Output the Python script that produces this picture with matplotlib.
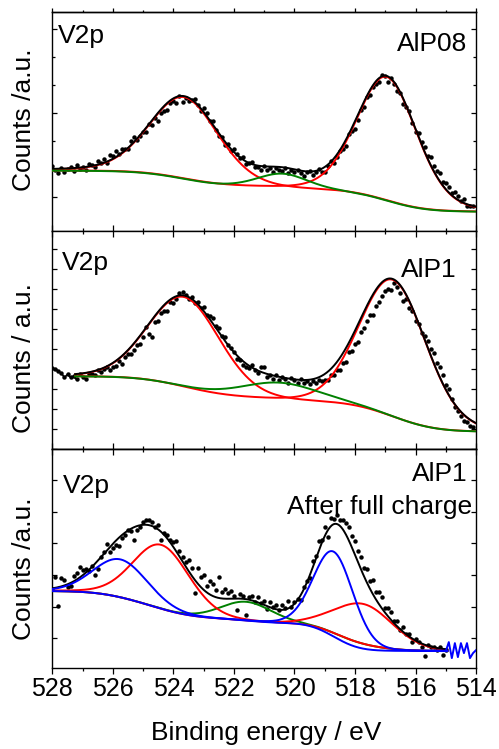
import matplotlib.pyplot as plt
import numpy as np
from matplotlib.ticker import MultipleLocator, FixedLocator

plt.rcParams['font.family'] = ['Liberation Sans', 'DejaVu Sans']

# energy grid of the measured points (eV, 0.1 eV steps from 528 down)
be_start = 528.0
be_step = 0.1

# --- AlP08 ---
alp08_counts = [65, 61, 58, 63, 59, 62, 64, 60, 66, 62,
                64, 61, 67, 66, 64, 70, 68, 72, 68, 76,
                75, 80, 77, 82, 82, 82, 90, 94, 91, 95,
                99, 99, 107, 106, 113, 110, 118, 120, 121, 128,
                130, 128, 135, 129, 133, 130, 131, 132, 126, 120,
                123, 118, 110, 110, 101, 95, 94, 86, 87, 80,
                82, 77, 73, 74, 67, 68, 69, 64, 64, 61,
                65, 61, 63, 59, 63, 61, 60, 63, 58, 61,
                59, 61, 58, 55, 59, 60, 56, 59, 62, 59,
                59, 65, 70, 68, 74, 80, 82, 85, 97, 100,
                102, 111, 121, 124, 134, 136, 144, 147, 149, 156,
                155, 149, 153, 147, 140, 138, 127, 124, 120, 108,
                99, 98, 89, 84, 75, 74, 65, 60, 58, 49,
                48, 44, 38, 39, 35, 30, 32, 25, 25, 25]
alp08_centers = [523.65, 516.95, 520.4]
alp08_heights = [82, 124, 15]
alp08_fwhm = [2.7, 2.35, 2.0]
alp08_lorentz = 0.2
alp08_bg_ends = [60, 19]
alp08_fit_range = [528.0, 514.0]

# --- AlP1 ---
alp1_counts = [81, 80, 78, 76, 72, 75, 72, 73, 70,
               75, 72, 70, 75, 75, 74, 79, 77, 80, 82,
               79, 82, 83, 88, 85, 92, 95, 95, 99, 104,
               105, 112, 122, 115, 112, 127, 128, 136, 138, 138,
               147, 146, 150, 156, 157, 154, 150, 152, 146, 147,
               141, 142, 134, 133, 131, 123, 121, 113, 112, 104,
               101, 97, 90, 89, 84, 82, 81, 84, 79, 76,
               82, 82, 72, 74, 70, 74, 69, 72, 70, 66,
               71, 69, 66, 70, 66, 68, 65, 68, 66, 69,
               68, 69, 69, 74, 74, 79, 79, 86, 87, 97,
               98, 105, 107, 117, 121, 128, 134, 134, 143, 147,
               153, 158, 160, 159, 166, 162, 156, 148, 150, 141,
               138, 128, 125, 116, 113, 108, 100, 96, 86, 82,
               74, 64, 60, 50, 42, 38, 33, 28, 27, 23, 22]
alp1_raw_points = 9
alp1_centers = [523.65, 516.75, 520.5]
alp1_heights = [90, 137, 17]
alp1_fwhm = [2.8, 2.6, 3.0]
alp1_lorentz = 0.1
alp1_bg_ends = [73, 18]
alp1_fit_range = [527.25, 514.0]

# --- AlP1 after full charge ---
charged_counts = [79, 91, 62, 90, 88, 81, 82, 92, 95, 101,
                  98, 99, 97, 102, 93, 99, 111, 116, 124, 116,
                  120, 123, 122, 130, 133, 138, 137, 128, 138, 141,
                  146, 148, 148, 146, 141, 143, 128, 135, 133, 128,
                  126, 127, 117, 111, 106, 108, 100, 75, 100, 91,
                  93, 82, 87, 84, 78, 91, 76, 79, 75, 77,
                  72, 58, 74, 72, 53, 71, 72, 66, 71, 65,
                  67, 59, 66, 61, 63, 58, 63, 60, 67, 61,
                  66, 69, 68, 81, 87, 90, 107, 112, 127, 128,
                  141, 131, 150, 149, 153, 148, 148, 145, 141, 132,
                  127, 117, 111, 100, 99, 87, 88, 76, 76, 71,
                  60, 60, 56, 47, 47, 38, 41, 34, 34, 26,
                  29, 26, 21, 12, 23, 21, 21, 18, 21, 13, 18]
charged_centers = [525.75, 524.4, 521.6, 518.7, 517.7]
charged_heights = [38, 64, 19, 85, 40]
charged_fwhm = [2.1, 2.2, 2.0, 1.55, 2.3]
charged_lorentz = 0.1
charged_bg_ends = [77, 17]
charged_fit_range = [528.0, 514.95]
charged_blue_bg_split = 520.5
charged_tail_be = [515.0, 514.9, 514.8, 514.7, 514.6, 514.5, 514.4, 514.3, 514.2, 514.1, 514.0]
charged_tail_counts = [17, 26, 10, 25, 11, 25, 15, 25, 10, 15, 18]


def peak(e, c, h, w, eta):
    d = (e - c) / w
    return h * ((1 - eta) * np.exp(-4 * np.log(2) * d ** 2) + eta / (1 + 4 * d ** 2))


def shirley(comps, ends):
    # grid runs from high to low binding energy
    total = np.sum(comps, axis=0)
    cum = np.cumsum(total[::-1])[::-1]
    cum = cum - cum[-1]
    return ends[1] + (ends[0] - ends[1]) * cum / cum[0]


def draw_panel(ax, counts, centers, heights, fwhm, eta, colors, bg_ends, fit_range,
               zorders, blue_split=None):
    be = be_start - be_step * np.arange(len(counts))
    ax.plot(be, counts, 'o', color='black', ms=3.2, mec='none', zorder=2)
    e = np.linspace(fit_range[0], fit_range[1], 800)
    comps = [peak(e, c, h, w, eta) for c, h, w in zip(centers, heights, fwhm)]
    bg = shirley(comps, bg_ends)
    bg_blue = bg.copy()
    if blue_split is not None:
        # the blue doublet has its own step below the split energy
        low = e < blue_split
        blue_low = [p[low] for p, col in zip(comps, colors) if col == 'blue']
        bg_blue[low] = shirley(blue_low, [bg[~low][-1], bg_ends[1]])
    for p, col, z in zip(comps, colors, zorders):
        base = bg_blue if col == 'blue' else bg
        ax.plot(e, base + p, color=col, lw=1.4, zorder=z)
    ax.plot(e, bg + np.sum(comps, axis=0), color='black', lw=1.4, zorder=4.5)
    return be


fig = plt.figure(figsize=(4.99, 7.49), dpi=100)
axes = fig.subplots(3, 1, sharex=True)
fig.subplots_adjust(left=0.105, right=0.954, top=0.984, bottom=0.108, hspace=0)
ax1, ax2, ax3 = axes

draw_panel(ax1, alp08_counts, alp08_centers, alp08_heights, alp08_fwhm, alp08_lorentz,
           ['red', 'red', 'green'], alp08_bg_ends, alp08_fit_range, [3, 3, 5])
be2 = draw_panel(ax2, alp1_counts, alp1_centers, alp1_heights, alp1_fwhm, alp1_lorentz,
                 ['red', 'red', 'green'], alp1_bg_ends, alp1_fit_range, [3, 3, 5])
ax2.plot(be2[:alp1_raw_points], alp1_counts[:alp1_raw_points], color='black', lw=1.2, zorder=3)
draw_panel(ax3, charged_counts, charged_centers, charged_heights, charged_fwhm, charged_lorentz,
           ['blue', 'red', 'green', 'blue', 'red'], charged_bg_ends, charged_fit_range,
           [6, 3.5, 3, 5, 3.6], blue_split=charged_blue_bg_split)
ax3.plot(charged_tail_be, charged_tail_counts, color='blue', lw=1.4, zorder=5)

ax3.set_xlim(528, 514)
ax3.xaxis.set_major_locator(MultipleLocator(2))
ax3.xaxis.set_minor_locator(MultipleLocator(1))

ytick_major = [FixedLocator([34, 118, 202]), MultipleLocator(20),
               FixedLocator([29.7, 61.4, 93.1, 124.8, 156.5, 188.2])]
ytick_minor = [FixedLocator([62, 90, 146, 174]), FixedLocator([]), FixedLocator([])]

for i, ax in enumerate(axes):
    ax.set_ylim(0, 218.8)
    for sp in ax.spines.values():
        sp.set_linewidth(1.0)
    ax.yaxis.set_major_locator(ytick_major[i])
    ax.yaxis.set_minor_locator(ytick_minor[i])
    ax.tick_params(axis='y', which='both', left=True, right=True, direction='in',
                   labelleft=False, width=0.9)
    ax.tick_params(axis='y', which='major', length=3.5)
    ax.tick_params(axis='y', which='minor', length=2)

# x ticks: inward at panel joins, outward at the outer edges
ax1.tick_params(axis='x', which='both', bottom=True, top=False, direction='in', width=0.9)
ax2.tick_params(axis='x', which='both', bottom=True, top=True, direction='in', width=0.9)
ax3.tick_params(axis='x', which='both', bottom=True, top=False, direction='out', width=0.9,
                labelsize=18, pad=2)
for ax in axes:
    ax.tick_params(axis='x', which='major', length=4.2)
    ax.tick_params(axis='x', which='minor', length=2.2)

sec1 = ax1.secondary_xaxis('top')
sec1.tick_params(axis='x', which='both', direction='out', labeltop=False, width=0.9)
sec1.tick_params(axis='x', which='major', length=3)
sec1.tick_params(axis='x', which='minor', length=1.6)
sec3 = ax3.secondary_xaxis('top')
sec3.tick_params(axis='x', which='both', direction='in', labeltop=False, width=0.9)
sec3.tick_params(axis='x', which='major', length=4.2)
sec3.tick_params(axis='x', which='minor', length=2.2)
for sec in (sec1, sec3):
    sec.xaxis.set_major_locator(MultipleLocator(2))
    sec.xaxis.set_minor_locator(MultipleLocator(1))
    sec.spines['top'].set_linewidth(1.0)

fs = 19
ax1.text(0.013, 0.856, 'V2p', transform=ax1.transAxes, fontsize=fs, va='baseline')
ax1.text(0.978, 0.822, 'AlP08', transform=ax1.transAxes, fontsize=fs, va='baseline', ha='right')
ax2.text(0.022, 0.819, 'V2p', transform=ax2.transAxes, fontsize=fs, va='baseline')
ax2.text(0.954, 0.789, 'AlP1', transform=ax2.transAxes, fontsize=fs, va='baseline', ha='right')
ax3.text(0.024, 0.801, 'V2p', transform=ax3.transAxes, fontsize=fs, va='baseline')
ax3.text(0.981, 0.855, 'AlP1', transform=ax3.transAxes, fontsize=fs, va='baseline', ha='right')
ax3.text(0.99, 0.706, 'After full charge', transform=ax3.transAxes, fontsize=fs,
         va='baseline', ha='right')

fig.text(0.049, 0.840, 'Counts /a.u.', rotation=90, ha='center', va='center', fontsize=fs)
fig.text(0.049, 0.5226, 'Counts / a.u.', rotation=90, ha='center', va='center', fontsize=fs)
fig.text(0.049, 0.2403, 'Counts /a.u.', rotation=90, ha='center', va='center', fontsize=fs)
fig.text(0.5327, 0.012, 'Binding energy / eV', ha='center', va='baseline', fontsize=fs)

fig.savefig('out.png', dpi=100)
